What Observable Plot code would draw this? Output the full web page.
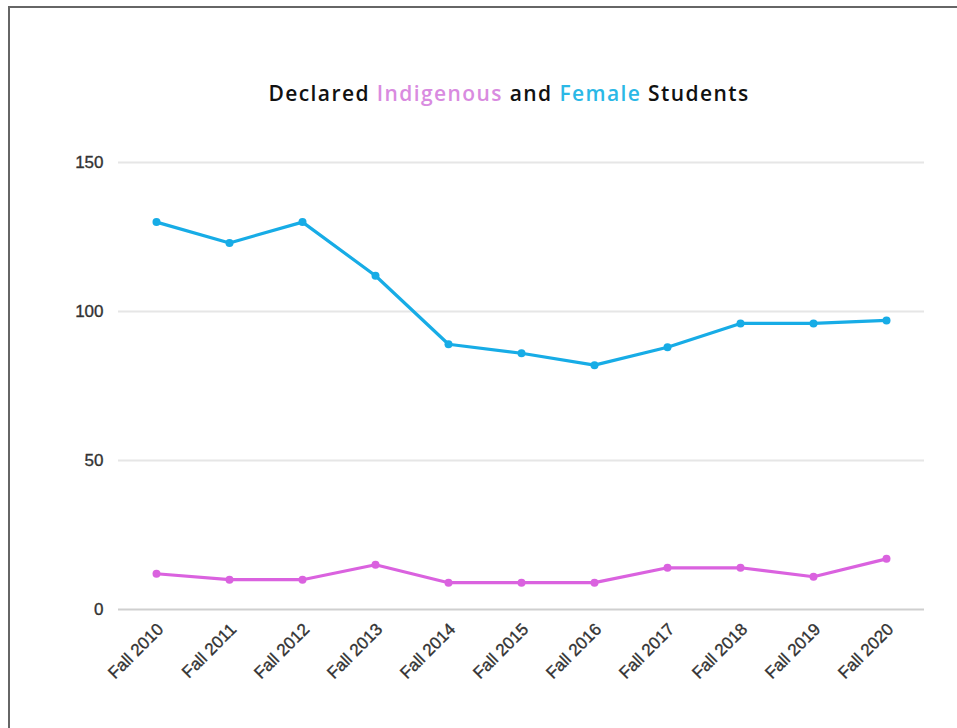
<!DOCTYPE html>
<html>
<head>
<meta charset="utf-8">
<script src="https://cdn.jsdelivr.net/npm/d3@7"></script>
<script src="https://cdn.jsdelivr.net/npm/@observablehq/plot@0.6"></script>
<style>
  html, body { margin: 0; padding: 0; background: #fff; }
  #wrap { position: relative; width: 957px; height: 728px; overflow: hidden; }
  #frame { position: absolute; left: 8px; top: 6px; width: 960px; height: 720px;
           border-left: 2px solid #666; border-top: 2px solid #666; border-bottom: 1px solid #ccc; }
  #title { position: absolute; left: 0; width: 1018px; top: 79px; text-align: center;
           font-family: "Open Sans", sans-serif; font-weight: 600; font-size: 21px; color: #111; letter-spacing: 1.4px; }
  #chart { position: absolute; left: 0; top: 0; }
  #chart svg text { font-size: 17px; stroke: #333; stroke-width: 0.35px; }
</style>
</head>
<body>
<div id="wrap">
  <div id="frame"></div>
  <div id="chart"></div>
  <div id="title">Declared <span style="color:#d98be0">Indigenous</span> and <span style="color:#2bb8e6">Female</span> Students</div>
</div>
<script>
const terms = ["Fall 2010","Fall 2011","Fall 2012","Fall 2013","Fall 2014","Fall 2015","Fall 2016","Fall 2017","Fall 2018","Fall 2019","Fall 2020"];
const female = [130, 123, 130, 112, 89, 86, 82, 88, 96, 96, 97];
const indigenous = [12, 10, 10, 15, 9, 9, 9, 14, 14, 11, 17];
const yTicks = [0, 50, 100, 150];

const femaleColor = "#17ace6";
const indigColor = "#da62df";

const femaleData = terms.map((t, i) => ({term: t, value: female[i]}));
const indigData = terms.map((t, i) => ({term: t, value: indigenous[i]}));

const chart = Plot.plot({
  width: 957,
  height: 728,
  marginTop: 162,
  marginBottom: 119,
  marginLeft: 118,
  marginRight: 33,
  style: {fontFamily: "Liberation Sans, Arial, sans-serif", fontSize: "17px", color: "#333", background: "transparent"},
  x: {type: "point", domain: terms, padding: 0.5},
  y: {domain: [0, 150]},
  marks: [
    Plot.ruleY(yTicks.filter(d => d > 0), {stroke: "#e6e6e6", strokeWidth: 2}),
    Plot.ruleY([0], {stroke: "#cfcfcf", strokeWidth: 2}),
    Plot.axisY({ticks: yTicks, tickSize: 0, tickPadding: 15, label: null, fill: "#333"}),
    Plot.axisX({tickSize: 0, tickRotate: -45, tickPadding: 10, dx: 4, dy: 7, label: null, fill: "#333"}),
    Plot.line(femaleData, {x: "term", y: "value", stroke: femaleColor, strokeWidth: 3.2}),
    Plot.dot(femaleData, {x: "term", y: "value", fill: femaleColor, r: 4}),
    Plot.line(indigData, {x: "term", y: "value", stroke: indigColor, strokeWidth: 3.2}),
    Plot.dot(indigData, {x: "term", y: "value", fill: indigColor, r: 4})
  ]
});
document.getElementById("chart").appendChild(chart);
</script>
</body>
</html>
